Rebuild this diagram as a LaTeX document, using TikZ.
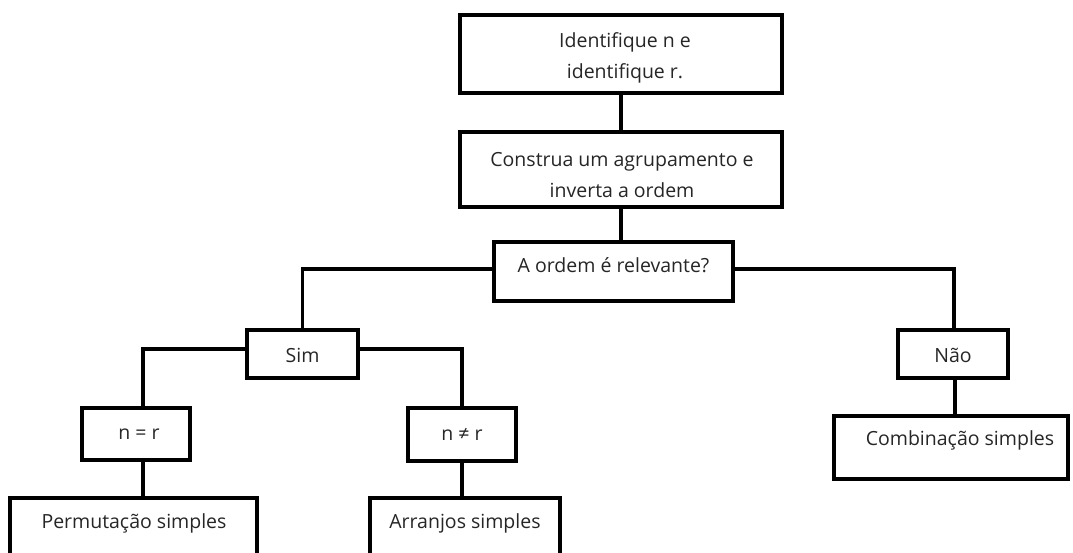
\documentclass[tikz,border=0pt]{standalone}
\usepackage{fontspec}
\setmainfont{Open Sans}
\begin{document}
\begin{tikzpicture}[x=1pt,y=-1pt]
\tikzset{
  box/.style={draw, line width=3.2pt, fill=white, inner sep=0pt},
  lbl/.style={font=\fontsize{19.5}{31}\selectfont, align=center, inner sep=0pt, text=black!85},
  link/.style={line width=3.2pt}
}
\clip (0,0) rectangle (1073,553);
\fill[white] (0,0) rectangle (1073,553);

% boxes
\node[box, minimum width=322, minimum height=78] (b1) at (621,54) {};
\node[box, minimum width=322, minimum height=75] (b2) at (621,169.5) {};
\node[box, minimum width=239, minimum height=59] (b3) at (613.5,271.5) {};
\node[box, minimum width=111, minimum height=48] (sim) at (302.5,354) {};
\node[box, minimum width=110, minimum height=48] (nao) at (953,354) {};
\node[box, minimum width=108, minimum height=52] (nr) at (136,434) {};
\node[box, minimum width=108, minimum height=53] (nq) at (462,434.5) {};
\node[box, minimum width=247, minimum height=63] (perm) at (133.5,529.5) {};
\node[box, minimum width=190, minimum height=63] (arr) at (465,529.5) {};
\node[box, minimum width=234, minimum height=63] (comb) at (951,447.5) {};

% labels
\node[lbl] (t1) at (625,57.5) {Identifique n e\\identifique r.};
\node[lbl] (t2) at (622,175.5) {Construa um agrupamento e\\inverta a ordem};
\node[lbl] (t3) at (613.5,265) {A ordem é relevante?};
\node[lbl] (tsim) at (302.5,355) {Sim};
\node[lbl] (tnao) at (953,355) {Não};
\node[lbl] (tnr) at (139,434) {n = r};
\node[lbl] (tnq) at (462,434) {n ≠ r};
\node[lbl] (tperm) at (134,523) {Permutação simples};
\node[lbl] (tarr) at (465,523) {Arranjos simples};
\node[lbl] (tcomb) at (960,440) {Combinação simples};

% connectors
\draw[link] (b1.south) -- (b2.north);
\draw[link] (b2.south) -- (b2.south |- b3.north);
\draw[link] ([yshift=2.5pt]b3.west) -| (sim.north);
\draw[link] ([yshift=2.5pt]b3.east) -| ([xshift=1pt]nao.north);
\draw[link] ([yshift=5pt]sim.west) -| ([xshift=7pt]nr.north);
\draw[link] ([yshift=5pt]sim.east) -| (nq.north);
\draw[link] ([xshift=7pt]nr.south) -- ([xshift=7pt]nr.south |- perm.north);
\draw[link] (nq.south) -- (nq.south |- arr.north);
\draw[link] ([xshift=2pt]nao.south) -- ([xshift=2pt]nao.south |- comb.north);
\end{tikzpicture}
\end{document}
